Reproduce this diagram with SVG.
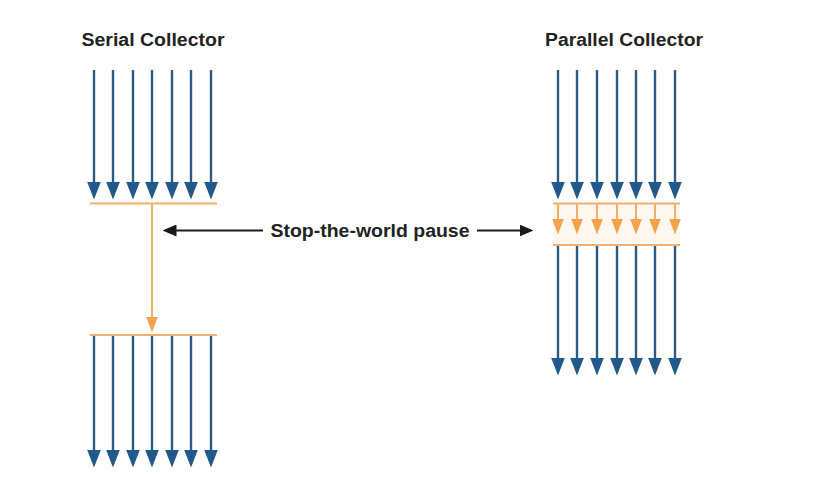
<svg xmlns="http://www.w3.org/2000/svg" width="830" height="478" viewBox="0 0 830 478">
<defs>
<marker id="hb" markerUnits="userSpaceOnUse" markerWidth="18" markerHeight="14" viewBox="0 0 18 14" refX="0.5" refY="7" orient="auto">
<path d="M0,0 L18,7 L0,14 Z" fill="#215a8a"/>
</marker>
<marker id="ho" markerUnits="userSpaceOnUse" markerWidth="16" markerHeight="12" viewBox="0 0 16 12" refX="0.5" refY="6" orient="auto">
<path d="M0,0 L16,6 L0,12 Z" fill="#f5a24c"/>
</marker>
<marker id="hk" markerUnits="userSpaceOnUse" markerWidth="14" markerHeight="12" viewBox="0 0 14 12" refX="0.5" refY="6" orient="auto">
<path d="M0,0 L14,6 L0,12 Z" fill="#1a1a1a"/>
</marker>
</defs>
<style>
.t{font-family:"Liberation Sans",Arial,sans-serif;font-weight:bold;font-size:18px;fill:#222}
.b{stroke:#2d5a80;stroke-width:2.4;fill:none}
.o{stroke:#f3ae6c;stroke-width:2;fill:none}
.oa{stroke:#f3ae6c;stroke-width:2;fill:none}
.k{stroke:#1a1a1a;stroke-width:2;fill:none}
</style>
<rect width="830" height="478" fill="#ffffff"/>
<g id="serial">
<text class="t" x="153" y="46" text-anchor="middle" textLength="143" lengthAdjust="spacingAndGlyphs">Serial Collector</text>
<g id="serial-top">
<line class="b" x1="94" y1="70" x2="94" y2="182" marker-end="url(#hb)"/>
<line class="b" x1="113" y1="70" x2="113" y2="182" marker-end="url(#hb)"/>
<line class="b" x1="133" y1="70" x2="133" y2="182" marker-end="url(#hb)"/>
<line class="b" x1="152" y1="70" x2="152" y2="182" marker-end="url(#hb)"/>
<line class="b" x1="172" y1="70" x2="172" y2="182" marker-end="url(#hb)"/>
<line class="b" x1="191" y1="70" x2="191" y2="182" marker-end="url(#hb)"/>
<line class="b" x1="211" y1="70" x2="211" y2="182" marker-end="url(#hb)"/>
</g>
<line class="o" x1="90" y1="203.5" x2="217" y2="203.5"/>
<line class="oa" x1="152" y1="203.5" x2="152" y2="317" marker-end="url(#ho)"/>
<line class="o" x1="90" y1="335" x2="217" y2="335"/>
<g id="serial-bottom">
<line class="b" x1="94" y1="336" x2="94" y2="450" marker-end="url(#hb)"/>
<line class="b" x1="113" y1="336" x2="113" y2="450" marker-end="url(#hb)"/>
<line class="b" x1="133" y1="336" x2="133" y2="450" marker-end="url(#hb)"/>
<line class="b" x1="152" y1="336" x2="152" y2="450" marker-end="url(#hb)"/>
<line class="b" x1="172" y1="336" x2="172" y2="450" marker-end="url(#hb)"/>
<line class="b" x1="191" y1="336" x2="191" y2="450" marker-end="url(#hb)"/>
<line class="b" x1="211" y1="336" x2="211" y2="450" marker-end="url(#hb)"/>
</g>
</g>
<g id="parallel">
<text class="t" x="624" y="46" text-anchor="middle" textLength="158" lengthAdjust="spacingAndGlyphs">Parallel Collector</text>
<rect x="553" y="203.5" width="127" height="41.5" fill="#fef7ef"/>
<g id="parallel-top">
<line class="b" x1="558" y1="70" x2="558" y2="182" marker-end="url(#hb)"/>
<line class="b" x1="577" y1="70" x2="577" y2="182" marker-end="url(#hb)"/>
<line class="b" x1="597" y1="70" x2="597" y2="182" marker-end="url(#hb)"/>
<line class="b" x1="617" y1="70" x2="617" y2="182" marker-end="url(#hb)"/>
<line class="b" x1="636" y1="70" x2="636" y2="182" marker-end="url(#hb)"/>
<line class="b" x1="655" y1="70" x2="655" y2="182" marker-end="url(#hb)"/>
<line class="b" x1="675" y1="70" x2="675" y2="182" marker-end="url(#hb)"/>
</g>
<line class="o" x1="553" y1="203.5" x2="680" y2="203.5"/>
<g id="parallel-mid">
<line class="oa" x1="558" y1="204" x2="558" y2="219" marker-end="url(#ho)"/>
<line class="oa" x1="577" y1="204" x2="577" y2="219" marker-end="url(#ho)"/>
<line class="oa" x1="597" y1="204" x2="597" y2="219" marker-end="url(#ho)"/>
<line class="oa" x1="617" y1="204" x2="617" y2="219" marker-end="url(#ho)"/>
<line class="oa" x1="636" y1="204" x2="636" y2="219" marker-end="url(#ho)"/>
<line class="oa" x1="655" y1="204" x2="655" y2="219" marker-end="url(#ho)"/>
<line class="oa" x1="675" y1="204" x2="675" y2="219" marker-end="url(#ho)"/>
</g>
<line class="o" x1="553" y1="245" x2="680" y2="245"/>
<g id="parallel-bottom">
<line class="b" x1="558" y1="246" x2="558" y2="358" marker-end="url(#hb)"/>
<line class="b" x1="577" y1="246" x2="577" y2="358" marker-end="url(#hb)"/>
<line class="b" x1="597" y1="246" x2="597" y2="358" marker-end="url(#hb)"/>
<line class="b" x1="617" y1="246" x2="617" y2="358" marker-end="url(#hb)"/>
<line class="b" x1="636" y1="246" x2="636" y2="358" marker-end="url(#hb)"/>
<line class="b" x1="655" y1="246" x2="655" y2="358" marker-end="url(#hb)"/>
<line class="b" x1="675" y1="246" x2="675" y2="358" marker-end="url(#hb)"/>
</g>
</g>
<g id="pause-label">
<text class="t" x="370" y="237" text-anchor="middle" textLength="199" lengthAdjust="spacingAndGlyphs">Stop-the-world pause</text>
</g>
<g id="connectors">
<line class="k" x1="263" y1="230.5" x2="176" y2="230.5" marker-end="url(#hk)"/>
<line class="k" x1="477" y1="230.5" x2="520" y2="230.5" marker-end="url(#hk)"/>
</g>
</svg>
